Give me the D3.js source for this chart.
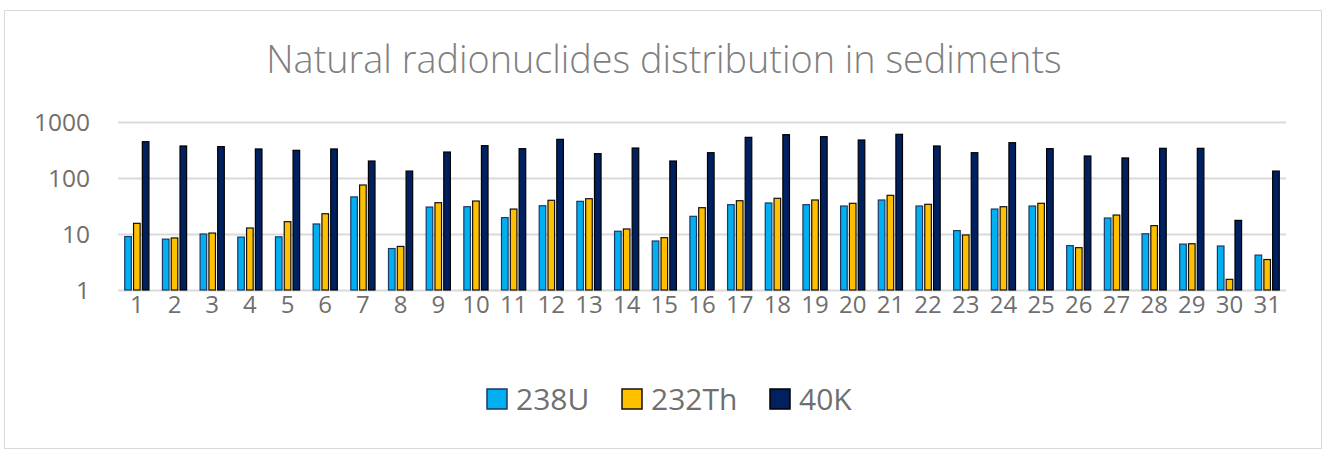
<!DOCTYPE html>
<html><head><meta charset="utf-8">
<script src="https://cdn.jsdelivr.net/npm/d3@7"></script>
<style>body{margin:0;background:#fff}svg{display:block}text{font-family:"Open Sans",sans-serif}</style>
</head><body><svg id="c" width="1328" height="458"></svg>
<script>
const categories = d3.range(1, 32).map(String);
const seriesNames = ["238U", "232Th", "40K"];
const u238 = [9, 8.1, 10, 8.8, 8.9, 15.1, 46, 5.5, 30.3, 30.7, 19.6, 32, 38.3, 11.2, 7.5, 20.7, 33.4, 35.8, 33.4, 31.6, 40.5, 31.6, 11.5, 27.9, 31.6, 6.2, 19.3, 10.1, 6.6, 6.1, 4.2];
const th232 = [15.5, 8.5, 10.4, 12.8, 16.6, 23, 75, 6.0, 36.2, 38.8, 27.9, 40, 42.7, 12.3, 8.6, 29.5, 39.3, 43.4, 40.5, 35.3, 49, 33.9, 9.6, 30.7, 35.3, 5.7, 21.8, 14.1, 6.7, 1.55, 3.5];
const k40 = [445, 373, 363, 330, 312, 330, 201, 133, 291, 378, 334, 490, 272, 343, 201, 283, 532, 594, 547, 477, 603, 373, 283, 427, 334, 247, 228, 339, 339, 17.5, 133];
const yTicks = [1, 10, 100, 1000];
const title = "Natural radionuclides distribution in sediments";

const series = [u238, th232, k40];
const fills = ["#00B0F0", "#FFC000", "#002060"];
const strokes = ["#1F3864", "#111111", "#000000"];

const svg = d3.select("#c");
svg.append("rect").attr("x", 4.5).attr("y", 10.5).attr("width", 1317).attr("height", 438)
  .attr("fill", "#fff").attr("stroke", "#d9d9d9");

const L = 118, R = 1286, T = 122, B = 290;
const x = d3.scaleBand().domain(categories).range([L, R]).paddingInner(0).paddingOuter(0);
const y = d3.scaleLog().domain([1, 1000]).range([B, T]);

svg.append("text").attr("x", 664).attr("y", 73).attr("text-anchor", "middle")
  .attr("font-size", 37.8).attr("font-weight", 300).attr("fill", "#7f7f7f").text(title);

// gridlines
svg.append("g").selectAll("line").data(yTicks).join("line")
  .attr("x1", L).attr("x2", R).attr("y1", d => Math.round(y(d)) + 0.5).attr("y2", d => Math.round(y(d)) + 0.5)
  .attr("stroke", "#d9d9d9").attr("stroke-width", 2);

// y axis labels
const yAxis = d3.axisLeft(y).tickValues(yTicks).tickFormat(d3.format("d")).tickSize(0).tickPadding(0);
const ya = svg.append("g").attr("transform", `translate(90,0)`).call(yAxis);
ya.select(".domain").remove();
ya.selectAll("text").attr("font-size", 24.5).attr("fill", "#6f6f6f").attr("font-family", "'Open Sans',sans-serif").attr("dy", "0.35em");

// x axis labels
const xAxis = d3.axisBottom(x).tickSize(0).tickPadding(0);
const xa = svg.append("g").attr("transform", `translate(0,${B + 4})`).call(xAxis);
xa.select(".domain").remove();
xa.selectAll("text").attr("font-size", 24).attr("fill", "#6f6f6f").attr("font-family", "'Open Sans',sans-serif").attr("dy", "0.8em");

// bars
const step = 8.8, bw = 6.6;
const offs = [-step, 0, step];
series.forEach((vals, si) => {
  svg.append("g").selectAll("rect").data(vals).join("rect")
    .attr("x", (d, i) => x(categories[i]) + x.bandwidth() / 2 + offs[si] - bw / 2)
    .attr("y", d => y(d))
    .attr("width", bw)
    .attr("height", d => B - y(d))
    .attr("fill", fills[si]).attr("stroke", strokes[si]).attr("stroke-width", 1.2);
});

// legend
const legX = [487, 622, 770];
const lg = svg.append("g");
seriesNames.forEach((n, i) => {
  lg.append("rect").attr("x", legX[i]).attr("y", 389).attr("width", 20).attr("height", 20)
    .attr("fill", fills[i]).attr("stroke", strokes[i]).attr("stroke-width", 1.5);
  lg.append("text").attr("x", legX[i] + 29).attr("y", 410).attr("font-size", 30).attr("fill", "#6f6f6f").text(n);
});
</script></body></html>
